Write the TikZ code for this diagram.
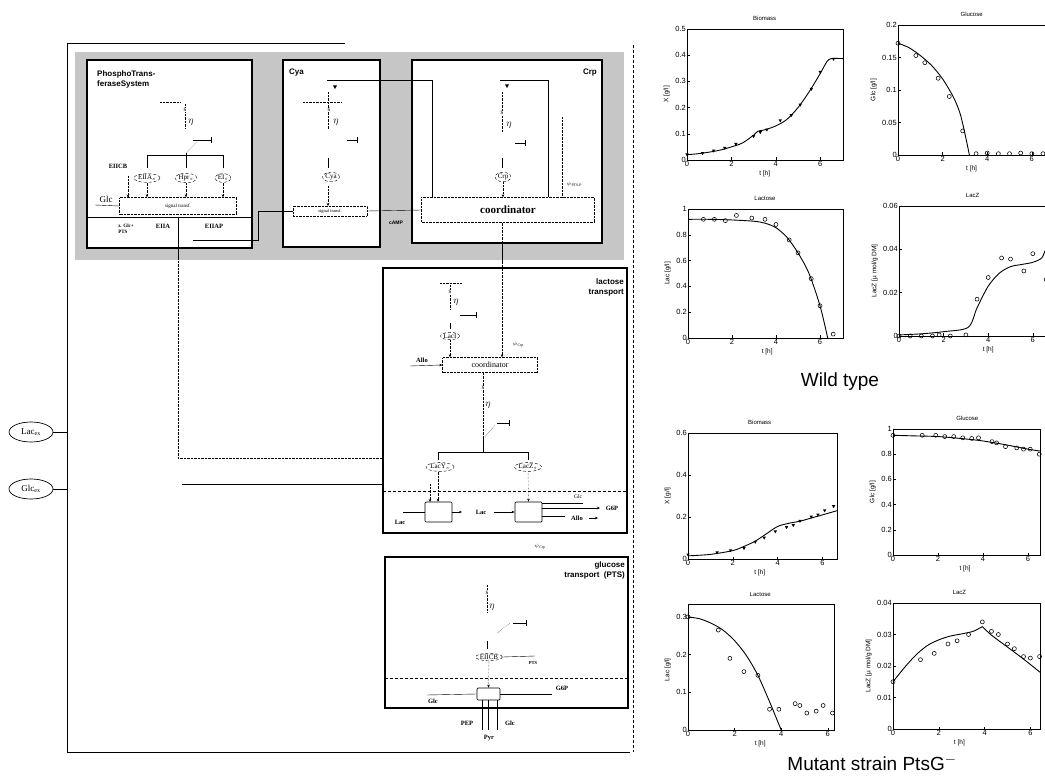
\documentclass[tikz,border=0pt]{standalone}
\usepackage{fontspec}
\setmainfont{Liberation Serif}
\setsansfont{Liberation Sans}
\usetikzlibrary{shapes.geometric,arrows.meta,calc}
\begin{document}
\begin{tikzpicture}[x=1pt,y=-1pt,
 >={Stealth[length=3pt,width=2.5pt]},
 mod/.style={draw,line width=1.8pt,fill=white},
 modb/.style={draw,line width=1.3pt,fill=white},
 sbox/.style={draw,densely dotted,fill=white,inner sep=1pt,font=\fontsize{5}{6}\selectfont},
 tbox/.style={draw,line width=0.7pt,inner sep=0pt,rounded corners=1pt,fill=white},
 ell/.style={ellipse,draw,densely dashed,inner sep=0.3pt,font=\fontsize{7}{8}\selectfont},
 dt/.style={font=\bfseries\fontsize{6.5}{7.5}\selectfont,inner sep=1pt},
 sm/.style={font=\fontsize{5.5}{6}\selectfont,inner sep=0.5pt},
 ss/.style={font=\fontsize{7}{8}\selectfont,inner sep=0.5pt,fill=white},
 gk/.style={font=\fontsize{10}{11}\selectfont,inner sep=0pt},
 mt/.style={font=\sffamily\bfseries\fontsize{8}{10}\selectfont,inner sep=0pt},
 inh/.style={-{Bar[width=6pt]},line width=0.8pt},
 tl/.style={font=\sffamily\fontsize{7.5}{8}\selectfont,inner sep=1pt},
 ttl/.style={font=\sffamily\fontsize{6}{7}\selectfont,inner sep=1pt},
 lab/.style={font=\sffamily\fontsize{6.5}{7}\selectfont,inner sep=1pt},
 ylab/.style={font=\sffamily\fontsize{6.5}{7}\selectfont,inner sep=1pt,xshift=-#1,rotate=90,anchor=south},
 ax/.style={line width=0.8pt},
 crv/.style={line width=0.9pt},
 mk/.style={line width=0.55pt},
 tri/.pic={\fill (-2,-1.5) -- (2,-1.5) -- (0,2) -- cycle;}
]
\useasboundingbox (0,0) rectangle (1045,778);
\fill[white] (0,0) rectangle (1045,778);

% ---------------- outer frame and shading
\draw[line width=0.9pt] (345,43) -- (67,43) -- (67,752) -- (630,752);
\draw[densely dashed,line width=0.5pt] (633,45) -- (633,752);
\fill[gray!45] (75,52) rectangle (624,260);

% helper coordinates
\coordinate (k432) at (432,80);
\coordinate (k548) at (548,80);
\coordinate (k562) at (562,117);
\coordinate (k502) at (502,80);
\coordinate (k483) at (483,437);
\coordinate (k438) at (438,460);

% ---------------- PTS module
\draw[mod] (87,60) rectangle (252,248);
\node[mt,align=left,anchor=north west] (ptsT) at (97,71) {PhosphoTrans-\\feraseSystem};
\draw[densely dotted] (160,102) -- (180,102);
\draw[densely dotted] (185,104) -- (185,129);
\node[ss] (pS) at (185,110) {s};
\node[gk] (pEta) at (191,122) {$\eta$};
\draw[inh] (193,140) -- (212,140);
\coordinate (pT) at (186,153);
\draw[densely dotted] (pT) -- (197,142);
\draw[line width=0.9pt] (pT) -- (186,168) (147,168) -- (147,155) -- (223,155) -- (223,168);
\node[ell] (eA) at (147,178) {EIIA$_s$};
\node[ell] (eH) at (186,178) {Hpr$_s$};
\node[ell] (eE) at (223,178) {EI$_s$};
\node[dt] (eiicbT) at (118,166) {EIICB};
\node[sbox,minimum width=117pt,minimum height=17pt] (pSig) at (178,206) {signal transf.};
\foreach \n in {eA,eH,eE} \draw[densely dotted,->] (\n) -- (\n |- pSig.north);
\draw[densely dotted,->] (128,176) -- (128,197.5);
\node[font=\fontsize{9}{10}\selectfont,inner sep=0pt] (pGlc) at (106,199) {Glc};
\draw (95,205) -- (pSig.west);
\draw (87,217) -- (252,217);
\node[dt,align=left,font=\bfseries\fontsize{5}{5.5}\selectfont] (zglc) at (126,229) {z. Glc+\\PTS};
\node[dt] (eiia) at (163,226) {EIIA};
\node[dt] (eiiap) at (214,226) {EIIAP};
\draw (178,217) -- (178,258);
\draw[densely dotted] (178,258) -- (178,458) -- (383,458);
\draw (182,484) -- (430,484);

% ---------------- Cya module
\draw[mod] (283,60) rectangle (380,247);
\node[mt,anchor=west] (cyaT) at (289,73) {Cya};
\pic at (335,87) {tri};
\draw[densely dotted] (303,102) -- (342,102);
\draw[densely dotted] (328,92) -- (328,129);
\node[ss] at (329,110) {s};
\node[gk] at (336,122) {$\eta$};
\draw[inh] (347,140) -- (358,140);
\draw[line width=0.9pt] (328,158) -- (328,168);
\node[ell] (eCya) at (331,177) {Cya};
\node[sbox,minimum width=74pt,minimum height=10pt,font=\fontsize{4.5}{5}\selectfont] (cSig) at (330,211) {signal transf.};
\draw[densely dotted,->] (328,186) -- (328,206);
\draw (193,240) -- (258,240) -- (258,211) -- (cSig.west);

% ---------------- Crp module
\draw[mod] (412,60) rectangle (602,243);
\node[mt,anchor=east] (crpT) at (597,73) {Crp};
\node[sbox,minimum width=173pt,minimum height=25pt,font=\bfseries\fontsize{11}{12}\selectfont] (coord) at (508,210) {coordinator};
\draw[line width=0.6pt] (327,80) -- (k432) -- (k432 |- coord.north);
\draw[line width=0.4pt] (500,80) -- (k548) -- (k548 |- coord.north);
\pic at (507,86) {tri};
\draw[densely dotted] (502,92) -- (502,132);
\node[ss] at (502,113) {s};
\node[gk] at (509,125) {$\eta$};
\draw[inh] (515,143) -- (526,143);
\draw[line width=0.9pt] (502,158) -- (502,168);
\node[ell] (eCrp) at (503,177) {Crp};
\draw[densely dotted,->] (eCrp) -- (eCrp |- coord.north);
\draw[densely dotted] (k562) -- (k562 |- coord.north);
\node[sm,anchor=west] at (566,184) {$\psi$\textsubscript{PTS-P}};
\draw (cSig.east) -- (coord.west);
\node[font=\sffamily\bfseries\fontsize{5}{6}\selectfont,inner sep=0pt] (camp) at (396,223) {cAMP};

% ---------------- lactose transport module
\draw[modb] (383,268) rectangle (627,533);
\node[mt,align=right,anchor=north east] (lacT) at (624,279) {lactose\\transport};
\node[sbox,minimum width=95pt,minimum height=15pt,font=\fontsize{8}{9}\selectfont] (lcoord) at (490,365) {coordinator};
\draw[densely dotted] (k502 |- coord.south) -- (502,246);
\draw (502,243) -- (502,262);
\draw[densely dotted,->] (502,262) -- (k502 |- lcoord.north);
\draw[densely dotted] (440,283) -- (462,283);
\draw[densely dotted] (450,285) -- (450,310);
\node[ss] at (450,292) {s};
\node[gk] at (456,302) {$\eta$};
\draw[inh] (460,315) -- (477,315);
\draw[line width=0.9pt] (450,323) -- (450,329);
\node[ell] (eLacI) at (450,336) {LacI};
\draw[densely dotted,->] (eLacI) -- (eLacI |- lcoord.north);
\node[dt] (allo) at (422,360) {Allo};
\draw[->] (410,366) -- (lcoord.west);
\node[sm,anchor=west] at (512,345) {$\psi$\textsubscript{Crp}};
\draw[densely dotted] (k483 |- lcoord.south) -- (k483);
\node[ss] at (483,388) {s};
\node[gk] at (488,405) {$\eta$};
\draw[inh] (497,423) -- (510,423);
\draw[densely dotted] (485,437) -- (495,425);
\draw[line width=0.9pt] (k483) -- (483,452) (438,460) -- (438,452) -- (528,452) -- (528,460);
\node[ell] (eLacY) at (440,467) {LacY$_s$};
\node[ell] (eLacZ) at (528,467) {LacZ$_s$};
\draw[densely dashed,line width=0.7pt] (383,491) -- (627,491);
\node[tbox,minimum width=27pt,minimum height=20pt] (lt1) at (438.5,512) {};
\node[tbox,minimum width=27pt,minimum height=20pt] (lt2) at (528.5,512) {};
\draw[densely dotted,->] (430,484) -- (430,502);
\draw[densely dotted,->] (k438 |- eLacY.south) -- (k438 |- lt1.north);
\draw[densely dotted,->] (eLacZ) -- (lt2.north);
\draw (403,512) -- (lt1.west);
\node[dt] (lacA) at (400,522) {Lac};
\draw[->] (lt1.east) -- (462,512);
\node[dt] (lacB) at (481,512) {Lac};
\draw[->] (494,512) -- (lt2.west);
\draw (542,503) -- (583,503);
\node[sm] at (578,497) {Glc};
\draw[->] (542,508) -- (600,508);
\node[dt] (g6pA) at (612,508) {G6P};
\draw (542,516) -- (565,516);
\node[dt] (alloB) at (577,518) {Allo};
\draw[->] (589,518) -- (598,518);

% ---------------- glucose transport module
\draw[modb] (385,557) rectangle (628,708);
\node[mt,align=right,anchor=north east] (glcT) at (625,562) {glucose\\transport\ \ (PTS)};
\node[sm] at (540,547) {$\psi$\textsubscript{Crp}};
\draw[densely dotted] (487,585) -- (487,612);
\node[ss] at (487,593) {s};
\node[gk] at (492,607) {$\eta$};
\draw[inh] (513,623) -- (527,623);
\draw[densely dotted] (497,633) -- (510,623);
\draw[line width=0.9pt] (487,641) -- (487,649);
\node[ell] (eEIICB) at (489,657) {EIICB};
\draw (eEIICB.east) -- (535,656);
\node[font=\fontsize{4.5}{5}\selectfont\bfseries,inner sep=0pt] at (533,663) {PTS};
\draw[densely dashed,line width=0.7pt] (385,678) -- (628,678);
\node[tbox,minimum width=23pt,minimum height=12pt] (gt) at (488.5,694) {};
\draw[densely dotted,->] (eEIICB) -- (gt.north);
\draw (427,695) -- (gt.west);
\node[dt] (glcB) at (433,701) {Glc};
\draw (gt.east) -- (552,694);
\node[dt] (g6pB) at (562,688) {G6P};
\draw (482,700) -- (482,730) (488,700) -- (488,730) (497,700) -- (497,730);
\node[dt,fill=white] (pep) at (467,723) {PEP};
\node[dt] (pyr) at (489,738) {Pyr};
\node[dt,fill=white] (glcC) at (510,723) {Glc};

% ---------------- external metabolites
\node[draw,ellipse,minimum width=44pt,minimum height=20pt,inner sep=0pt,line width=0.7pt,font=\fontsize{9}{10}\selectfont] (lacex) at (31,432) {Lac$_{\mathrm{ex}}$};
\node[draw,ellipse,minimum width=44pt,minimum height=20pt,inner sep=0pt,line width=0.7pt,font=\fontsize{9}{10}\selectfont] (glcex) at (31,489) {Glc$_{\mathrm{ex}}$};
\draw[line width=0.8pt] (lacex.east) -- (67,432);
\draw[line width=0.8pt] (glcex.east) -- (67,489);

% ================= PLOTS
% 1 Biomass WT
\begin{scope}[shift={(687,160)},x=22.2pt,y=262pt]
 \draw[ax] (0,0) rectangle (7.03,0.5);
 \foreach \t in {0,2,4,6} {\draw (\t,0) -- ++(0,2.5pt); \node[tl,anchor=north] at (\t,0) {\t};}
 \foreach \v in {0,0.1,0.2,0.3,0.4,0.5} {\draw (0,\v) -- ++(2.5pt,0); \node[tl,anchor=east] at (0,\v) {\v};}
 \node[ttl,anchor=south,yshift=7pt] at (3.5,0.5) {Biomass};
 \node[lab,anchor=north,yshift=-10pt] at (3.5,0) {t [h]};
 \node[ylab=16pt] at (0,0.25) {X [g/l]};
 \draw[crv] plot[smooth,tension=0.5] coordinates {(0,0.02) (0.5,0.024) (1,0.03) (1.5,0.038) (2,0.05) (2.5,0.065) (3,0.095) (3.2,0.11) (3.5,0.115) (4,0.13) (4.5,0.155) (5,0.2) (5.5,0.26) (6,0.33) (6.3,0.375) (6.5,0.387) (7.03,0.387)};
 \foreach \a/\b in {0/0.02,0.7/0.025,1.2/0.035,1.7/0.045,2.2/0.06,3/0.09,3.3/0.105,3.6/0.115,4.2/0.15,4.7/0.17,5.1/0.21,5.6/0.27,6/0.335,6.6/0.385}
  \fill (\a,\b) ++(-1.7pt,1.3pt) -- ++(3.4pt,0) -- ++(-1.7pt,-3pt) -- cycle;
\end{scope}
% 2 Glucose WT
\begin{scope}[shift={(898,155)},x=22.3pt,y=650pt]
 \draw[ax] (0,0) rectangle (7,0.2);
 \foreach \t in {0,2,4,6} {\draw (\t,0) -- ++(0,2.5pt); \node[tl,anchor=north] at (\t,0) {\t};}
 \foreach \v in {0,0.05,0.1,0.15,0.2} {\draw (0,\v) -- ++(2.5pt,0); \node[tl,anchor=east] at (0,\v) {\v};}
 \node[ttl,anchor=south,yshift=7pt] at (3.3,0.2) {Glucose};
 \node[lab,anchor=north,yshift=-10pt] at (3.3,0) {t [h]};
 \node[ylab=20pt] at (0,0.1) {Glc [g/l]};
 \draw[crv] plot[smooth,tension=0.5] coordinates {(0,0.172) (0.5,0.165) (1,0.153) (1.5,0.138) (2,0.117) (2.5,0.088) (2.8,0.062) (3.05,0.025) (3.2,0)};
 \draw[crv] (3.2,0) -- (7,0);
 \foreach \a/\b in {0/0.172,0.8/0.153,1.2/0.142,1.8/0.118,2.3/0.09,2.9/0.037,3.5/0.002,4/0.003,4.5/0.002,5/0.002,5.5/0.003,6/0.002,6.5/0.002}
  \draw[mk] (\a,\b) circle (2pt);
\end{scope}
% 3 Lactose WT
\begin{scope}[shift={(688,338)},x=22pt,y=129pt]
 \draw[ax] (0,0) rectangle (7.05,1);
 \foreach \t in {0,2,4,6} {\draw (\t,0) -- ++(0,2.5pt); \node[tl,anchor=north] at (\t,0) {\t};}
 \foreach \v in {0,0.2,0.4,0.6,0.8,1} {\draw (0,\v) -- ++(2.5pt,0); \node[tl,anchor=east] at (0,\v) {\v};}
 \node[ttl,anchor=south,yshift=7pt] at (3.5,1) {Lactose};
 \node[lab,anchor=north,yshift=-10pt] at (3.6,0) {t [h]};
 \node[ylab=16pt] at (0,0.5) {Lac [g/l]};
 \draw[crv] plot[smooth,tension=0.5] coordinates {(0,0.92) (1,0.92) (2,0.915) (3,0.905) (3.5,0.89) (4,0.855) (4.5,0.78) (5,0.66) (5.5,0.5) (6,0.25) (6.35,0)};
 \foreach \a/\b in {0.7/0.92,1.2/0.92,1.7/0.91,2.2/0.95,2.9/0.93,3.5/0.92,4/0.88,4.6/0.76,5/0.66,5.6/0.46,6/0.25,6.6/0.03}
  \draw[mk] (\a,\b) circle (2pt);
\end{scope}
% 4 LacZ WT
\begin{scope}[shift={(899,336)},x=22.3pt,y=2167pt]
 \draw[ax] (0,0) rectangle (7,0.06);
 \foreach \t in {0,2,4,6} {\draw (\t,0) -- ++(0,2.5pt); \node[tl,anchor=north] at (\t,0) {\t};}
 \foreach \v in {0,0.02,0.04,0.06} {\draw (0,\v) -- ++(2.5pt,0); \node[tl,anchor=east] at (0,\v) {\v};}
 \node[ttl,anchor=south,yshift=7pt] at (3.3,0.06) {LacZ};
 \node[lab,anchor=north,yshift=-10pt] at (4,0) {t [h]};
 \node[ylab=20pt] at (0,0.03) {LacZ [µ mol/g DM]};
 \draw[crv] plot[smooth,tension=0.5] coordinates {(0,0.0005) (1,0.001) (2,0.002) (3.1,0.004) (3.5,0.013) (4,0.023) (4.5,0.029) (5,0.032) (5.5,0.033) (6,0.034) (6.4,0.036) (6.6,0.04) (7,0.041)};
 \foreach \a/\b in {0/0,0.5/0,1/0,1.5/0,1.8/0.0005,2.3/0,3/0.0005,3.5/0.017,4/0.027,4.6/0.036,5/0.0355,5.6/0.03,6/0.038,6.6/0.026}
  \draw[mk] (\a,\b) circle (2pt);
\end{scope}
\node[font=\sffamily\fontsize{19}{20}\selectfont,inner sep=0pt] (wt) at (840,382) {Wild type};
% 5 Biomass mutant
\begin{scope}[shift={(688,559)},x=22.4pt,y=210pt]
 \draw[ax] (0,0) rectangle (6.65,0.6);
 \foreach \t in {0,2,4,6} {\draw (\t,0) -- ++(0,2.5pt); \node[tl,anchor=north] at (\t,0) {\t};}
 \foreach \v in {0,0.2,0.4,0.6} {\draw (0,\v) -- ++(2.5pt,0); \node[tl,anchor=east] at (0,\v) {\v};}
 \node[ttl,anchor=south,yshift=7pt] at (3.2,0.6) {Biomass};
 \node[lab,anchor=north,yshift=-10pt] at (3.2,0) {t [h]};
 \node[ylab=16pt] at (0,0.3) {X [g/l]};
 \draw[crv] plot[smooth,tension=0.5] coordinates {(0,0.015) (1,0.022) (2,0.04) (2.5,0.06) (3,0.085) (3.5,0.12) (4,0.155) (4.5,0.17) (5,0.18) (5.5,0.195) (6,0.21) (6.65,0.23)};
 \foreach \a/\b in {0/0.02,1.3/0.03,1.9/0.04,2.5/0.05,3/0.08,3.4/0.1,3.9/0.13,4.4/0.15,4.7/0.16,5/0.18,5.5/0.2,5.8/0.21,6.1/0.23,6.5/0.25}
  \fill (\a,\b) ++(-1.7pt,1.3pt) -- ++(3.4pt,0) -- ++(-1.7pt,-3pt) -- cycle;
\end{scope}
% 6 Glucose mutant
\begin{scope}[shift={(893,555)},x=22.5pt,y=126pt]
 \draw[ax] (0,0) rectangle (6.53,1);
 \foreach \t in {0,2,4,6} {\draw (\t,0) -- ++(0,2.5pt); \node[tl,anchor=north] at (\t,0) {\t};}
 \foreach \v in {0,0.2,0.4,0.6,0.8,1} {\draw (0,\v) -- ++(2.5pt,0); \node[tl,anchor=east] at (0,\v) {\v};}
 \node[ttl,anchor=south,yshift=7pt] at (3.3,1) {Glucose};
 \node[lab,anchor=north,yshift=-10pt] at (3.2,0) {t [h]};
 \node[ylab=16pt] at (0,0.5) {Glc [g/l]};
 \draw[crv] plot[smooth,tension=0.5] coordinates {(0,0.95) (1,0.945) (2,0.94) (3,0.925) (4,0.905) (5,0.875) (6,0.84) (6.53,0.825)};
 \foreach \a/\b in {0/0.95,1.3/0.95,1.9/0.95,2.3/0.94,2.7/0.94,3.1/0.93,3.5/0.925,3.8/0.93,4.4/0.9,4.6/0.89,5/0.86,5.5/0.85,5.8/0.84,6.1/0.84,6.5/0.8}
  \draw[mk] (\a,\b) circle (2pt);
\end{scope}
% 7 Lactose mutant
\begin{scope}[shift={(688,730)},x=23.3pt,y=377pt]
 \draw[ax] (0,0) rectangle (6.3,0.332);
 \foreach \t in {0,2,4,6} {\draw (\t,0) -- ++(0,2.5pt); \node[tl,anchor=north] at (\t,0) {\t};}
 \foreach \v in {0,0.1,0.2,0.3} {\draw (0,\v) -- ++(2.5pt,0); \node[tl,anchor=east] at (0,\v) {\v};}
 \node[ttl,anchor=south,yshift=7pt] at (3.1,0.332) {Lactose};
 \node[lab,anchor=north,yshift=-10pt] at (3.1,0) {t [h]};
 \node[ylab=16pt] at (0,0.16) {Lac [g/l]};
 \draw[crv] plot[smooth,tension=0.5] coordinates {(0,0.3) (0.5,0.295) (1,0.283) (1.5,0.265) (2,0.237) (2.5,0.198) (3,0.145) (3.5,0.075) (3.8,0.03) (4,0)};
 \draw[crv] (4,0) -- (6.3,0);
 \foreach \a/\b in {0/0.3,1.3/0.265,1.8/0.19,2.4/0.155,3/0.145,3.5/0.055,3.9/0.055,4.6/0.07,4.8/0.065,5.1/0.045,5.5/0.05,5.8/0.065,6.2/0.045}
  \draw[mk] (\a,\b) circle (2pt);
\end{scope}
% 8 LacZ mutant
\begin{scope}[shift={(893,729)},x=22.9pt,y=3150pt]
 \draw[ax] (0,0) rectangle (6.42,0.04);
 \foreach \t in {0,2,4,6} {\draw (\t,0) -- ++(0,2.5pt); \node[tl,anchor=north] at (\t,0) {\t};}
 \foreach \v in {0,0.01,0.02,0.03,0.04} {\draw (0,\v) -- ++(2.5pt,0); \node[tl,anchor=east] at (0,\v) {\v};}
 \node[ttl,anchor=south,yshift=7pt] at (2.9,0.04) {LacZ};
 \node[lab,anchor=north,yshift=-10pt] at (2.9,0) {t [h]};
 \node[ylab=20pt] at (0,0.02) {LacZ [µ mol/g DM]};
 \draw[crv] plot[smooth,tension=0.5] coordinates {(0,0.015) (0.5,0.0195) (1,0.0235) (1.5,0.0265) (2,0.0283) (2.5,0.0295) (3,0.0302) (3.5,0.031) (3.9,0.0325)};
 \draw[crv] plot[smooth,tension=0.5] coordinates {(3.9,0.0325) (4.3,0.0298) (5,0.026) (5.5,0.0233) (6,0.0205) (6.42,0.018)};
 \foreach \a/\b in {0/0.015,1.2/0.022,1.8/0.024,2.4/0.027,2.8/0.028,3.3/0.03,3.9/0.034,4.3/0.031,4.6/0.03,5/0.027,5.3/0.0255,5.7/0.023,6/0.0225,6.4/0.023}
  \draw[mk] (\a,\b) circle (2pt);
\end{scope}
\node[font=\sffamily\fontsize{19}{20}\selectfont,inner sep=0pt] (mut) at (872,763) {Mutant strain PtsG$^{-}$};
\end{tikzpicture}
\end{document}
